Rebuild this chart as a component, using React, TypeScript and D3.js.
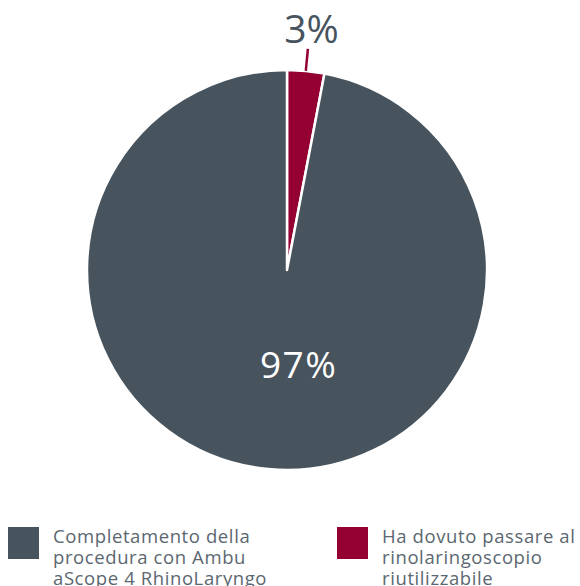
import React from "react";
import * as d3 from "d3";

const categories = [
  "Completamento della procedura con Ambu aScope 4 RhinoLaryngo",
  "Ha dovuto passare al rinolaringoscopio riutilizzabile",
];
const values = [97, 3];
const valueLabels = ["97%", "3%"];
const legendLines = [
  ["Completamento della", "procedura con Ambu", "aScope 4 RhinoLaryngo"],
  ["Ha dovuto passare al", "rinolaringoscopio", "riutilizzabile"],
];
const colors = ["#47535d", "#930031"];

const W = 580;
const H = 586;
const cx = 287;
const cy = 270;
const R = 200;
const FONT = "'Open Sans', 'Noto Sans', sans-serif";

export default function App() {
  // 3% slice first at 12 o'clock, clockwise
  const order = [1, 0];
  const pie = d3
    .pie<number>()
    .sort(null)
    .value((i) => values[i]);
  const arcsData = pie(order);
  const arc = d3.arc<d3.PieArcDatum<number>>().innerRadius(0).outerRadius(R);

  const small = arcsData.find((a) => a.data === 1)!;
  const big = arcsData.find((a) => a.data === 0)!;
  const smallMid = (small.startAngle + small.endAngle) / 2;
  const pt = (a: number, r: number) => [Math.sin(a) * r, -Math.cos(a) * r];
  const [l1x, l1y] = pt(smallMid, R);
  const [l2x, l2y] = pt(smallMid, R + 22);
  const [tx, ty] = pt(smallMid, R + 28);

  const bigC = d3.arc<d3.PieArcDatum<number>>().innerRadius(0).outerRadius(R).centroid(big);

  return (
    <svg
      width={W}
      height={H}
      style={{ position: "absolute", left: 0, top: 0, display: "block" }}
    >
      <g transform={`translate(${cx},${cy})`}>
        {arcsData.map((a) => (
          <path
            key={a.data}
            d={arc(a) || ""}
            fill={colors[a.data]}
            stroke="#ffffff"
            strokeWidth={2.5}
            strokeLinejoin="round"
          />
        ))}
        <line
          x1={l1x}
          y1={l1y}
          x2={l2x}
          y2={l2y}
          stroke={colors[1]}
          strokeWidth={2.5}
        />
        <text
          x={tx + 3}
          y={ty - 0}
          textAnchor="middle"
          fontFamily={FONT}
          fontSize={39}
          fill={colors[0]}
        >
          {valueLabels[1]}
        </text>
        <text
          x={bigC[0] + 21}
          y={bigC[1] + 8}
          textAnchor="middle"
          fontFamily={FONT}
          fontSize={37}
          letterSpacing={1.5}
          fill="#ffffff"
        >
          {valueLabels[0]}
        </text>
      </g>
      {categories.map((c, i) => {
        const x0 = i === 0 ? 8 : 337;
        return (
          <g key={c}>
            <rect x={x0} y={527} width={31} height={32} fill={colors[i]} />
            <text
              fontFamily={FONT}
              fontSize={18.5}
              letterSpacing={0.6}
              fill="#5b6770"
            >
              {legendLines[i].map((ln, j) => (
                <tspan key={j} x={x0 + 45} y={543 + j * 21}>
                  {ln}
                </tspan>
              ))}
            </text>
          </g>
        );
      })}
    </svg>
  );
}
